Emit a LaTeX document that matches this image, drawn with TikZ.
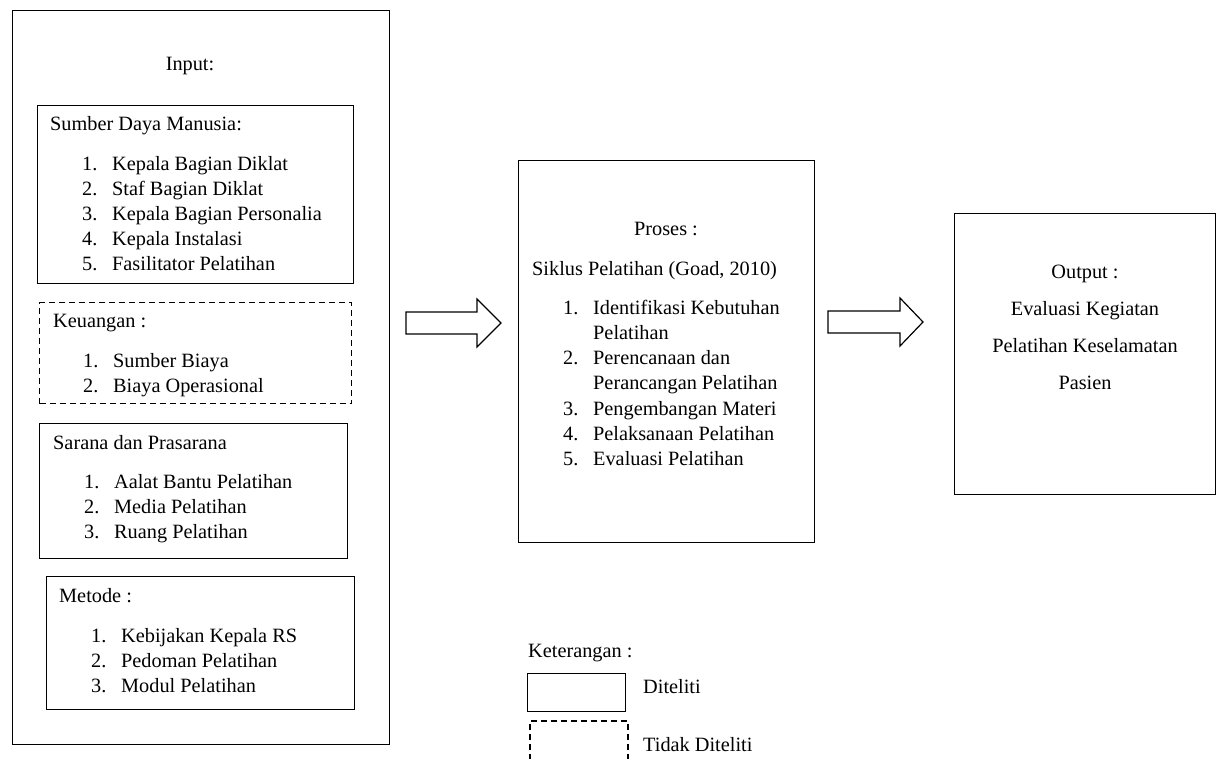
\documentclass[tikz,border=0pt]{standalone}
\usepackage{fontspec}
\setmainfont{Liberation Serif}
\newcommand\myitem[2]{\makebox[30pt][l]{#1}#2}
\begin{document}
\begin{tikzpicture}[x=1pt,y=-1pt,
  box/.style={draw, line width=1.4pt, anchor=north west, inner sep=0pt},
  dbox/.style={box, dash pattern=on 6pt off 4pt},
  txt/.style={inner sep=0pt, font=\fontsize{20.3}{25}\selectfont},
  blk/.style={draw, line width=1.2pt, line join=miter}]
\useasboundingbox (0,0) rectangle (1222,758);

% ---------- Input column ----------
\node[box, minimum width=377pt, minimum height=734pt] (input) at (12,10) {};
\node[txt, anchor=base] (tinput) at (190,70) {Input:};

\node[box, minimum width=316pt, minimum height=178pt] (sdm) at (37,105) {};
\node[txt, anchor=base west] (tsdm) at (50,130.7) {Sumber Daya Manusia:};
\node[txt, anchor=base west] (lsdm) at (82,170) {\begin{tabular}[t]{@{}l@{}}
\myitem{1.}{Kepala Bagian Diklat}\\
\myitem{2.}{Staf Bagian Diklat}\\
\myitem{3.}{Kepala Bagian Personalia}\\
\myitem{4.}{Kepala Instalasi}\\
\myitem{5.}{Fasilitator Pelatihan}
\end{tabular}};

\node[dbox, minimum width=312pt, minimum height=101pt] (keu) at (39,302) {};
\node[txt, anchor=base west] (tkeu) at (53,327) {Keuangan :};
\node[txt, anchor=base west] (lkeu) at (83,367) {\begin{tabular}[t]{@{}l@{}}
\myitem{1.}{Sumber Biaya}\\
\myitem{2.}{Biaya Operasional}
\end{tabular}};

\node[box, minimum width=308pt, minimum height=135pt] (sarana) at (39,423) {};
\node[txt, anchor=base west] (tsarana) at (53,449) {Sarana dan Prasarana};
\node[txt, anchor=base west] (lsarana) at (84,488) {\begin{tabular}[t]{@{}l@{}}
\myitem{1.}{Aalat Bantu Pelatihan}\\
\myitem{2.}{Media Pelatihan}\\
\myitem{3.}{Ruang Pelatihan}
\end{tabular}};

\node[box, minimum width=308pt, minimum height=133pt] (metode) at (46,576) {};
\node[txt, anchor=base west] (tmetode) at (59,602) {Metode :};
\node[txt, anchor=base west] (lmetode) at (91,642) {\begin{tabular}[t]{@{}l@{}}
\myitem{1.}{Kebijakan Kepala RS}\\
\myitem{2.}{Pedoman Pelatihan}\\
\myitem{3.}{Modul Pelatihan}
\end{tabular}};

% ---------- Process ----------
\node[box, minimum width=296pt, minimum height=382pt] (proses) at (518,160) {};
\node[txt, anchor=base] (tproses) at (666,235) {Proses :};
\node[txt, anchor=base west] (tsiklus) at (532,275) {Siklus Pelatihan (Goad, 2010)};
\node[txt, anchor=base west, font=\fontsize{20.3}{25.3}\selectfont] (lproses) at (563,314) {\begin{tabular}[t]{@{}l@{}}
\myitem{1.}{Identifikasi Kebutuhan}\\
\myitem{}{Pelatihan}\\
\myitem{2.}{Perencanaan dan}\\
\myitem{}{Perancangan Pelatihan}\\
\myitem{3.}{Pengembangan Materi}\\
\myitem{4.}{Pelaksanaan Pelatihan}\\
\myitem{5.}{Evaluasi Pelatihan}
\end{tabular}};

% ---------- Output ----------
\node[box, minimum width=261pt, minimum height=281pt] (output) at (954,213) {};
\node[txt, anchor=base, font=\fontsize{20.3}{37.3}\selectfont] (toutput) at (1085,278) {\begin{tabular}[t]{@{}c@{}}
Output :\\
Evaluasi Kegiatan\\
Pelatihan Keselamatan\\
Pasien
\end{tabular}};

% ---------- Block arrows ----------
\draw[blk] (406,312) -- (477,312) -- (477,299) -- (501,323) -- (477,347) -- (477,334) -- (406,334) -- cycle;
\draw[blk] (828,311) -- (900,311) -- (900,298) -- (923,322) -- (900,346) -- (900,333) -- (828,333) -- cycle;

% ---------- Legend ----------
\node[txt, anchor=base west] (tket) at (528,657) {Keterangan :};
\node[box, minimum width=98pt, minimum height=38pt] (legsolid) at (527,673) {};
\node[txt, anchor=base west] (tditeliti) at (643,693) {Diteliti};
\draw[line width=1.4pt, dash pattern=on 6pt off 4pt] (530,760) -- (530,721) -- (628,721) -- (628,760);
\node[txt, anchor=base west] (ttidak) at (643,751) {Tidak Diteliti};
\end{tikzpicture}
\end{document}
